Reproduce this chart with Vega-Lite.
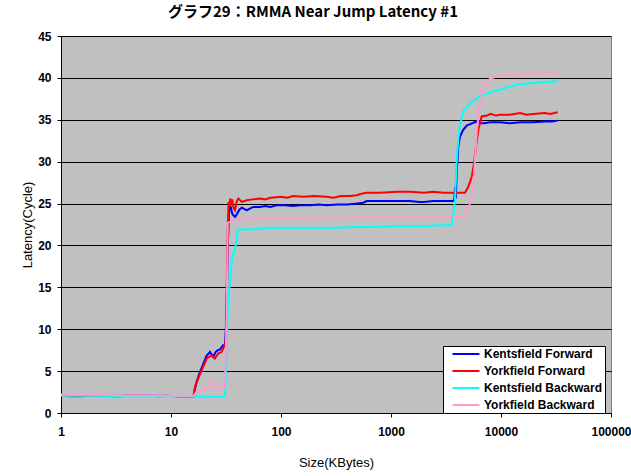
{
  "$schema": "https://vega.github.io/schema/vega-lite/v6.json",
  "width": 550,
  "height": 377,
  "autosize": {"type": "none"},
  "padding": {"left": 61, "top": 36, "right": 20, "bottom": 63},
  "background": "white",
  "title": {"text": "グラフ29：RMMA Near Jump Latency #1", "font": "Noto Sans CJK JP", "fontSize": 15, "fontWeight": "bold", "color": "black", "anchor": "middle", "dx": -23, "offset": 10},
  "config": {"view": {"fill": "#C0C0C0", "stroke": "#808080", "strokeWidth": 1}},
  "datasets": {
    "kf": [{"size":1,"latency":2.1},{"size":1.5,"latency":2.1},{"size":2,"latency":2.1},{"size":3,"latency":2.05},{"size":4,"latency":2.05},{"size":6,"latency":2.05},{"size":8,"latency":2.05},{"size":12,"latency":2.0},{"size":16,"latency":2.0},{"size":17,"latency":3.6},{"size":18,"latency":4.6},{"size":19.7,"latency":5.9},{"size":21,"latency":6.8},{"size":22.6,"latency":7.3},{"size":24.2,"latency":6.7},{"size":25.5,"latency":7.3},{"size":26.7,"latency":7.5},{"size":28,"latency":7.6},{"size":29.7,"latency":8.1},{"size":31,"latency":8.0},{"size":32,"latency":12},{"size":32.8,"latency":20},{"size":33.7,"latency":23.9},{"size":34.4,"latency":24.8},{"size":35.1,"latency":24.5},{"size":36,"latency":23.8},{"size":37,"latency":23.6},{"size":38.2,"latency":23.4},{"size":40,"latency":23.8},{"size":42,"latency":24.3},{"size":44,"latency":24.5},{"size":46,"latency":24.4},{"size":48.8,"latency":24.2},{"size":52,"latency":24.4},{"size":56,"latency":24.6},{"size":64,"latency":24.6},{"size":72,"latency":24.7},{"size":80,"latency":24.6},{"size":91,"latency":24.8},{"size":110,"latency":24.8},{"size":128,"latency":24.7},{"size":150,"latency":24.8},{"size":183,"latency":24.8},{"size":220,"latency":24.9},{"size":260,"latency":24.8},{"size":330,"latency":24.9},{"size":400,"latency":24.9},{"size":488,"latency":25.0},{"size":560,"latency":25.1},{"size":601,"latency":25.3},{"size":800,"latency":25.3},{"size":1000,"latency":25.3},{"size":1127,"latency":25.3},{"size":1489,"latency":25.3},{"size":1800,"latency":25.2},{"size":2000,"latency":25.2},{"size":2410,"latency":25.3},{"size":3000,"latency":25.3},{"size":3500,"latency":25.3},{"size":3687,"latency":25.3},{"size":3770,"latency":25.5},{"size":3830,"latency":27.0},{"size":3880,"latency":25.6},{"size":3958,"latency":28.8},{"size":4090,"latency":31.8},{"size":4240,"latency":33.0},{"size":4540,"latency":33.8},{"size":4877,"latency":34.3},{"size":5500,"latency":34.6},{"size":6013,"latency":34.8},{"size":6500,"latency":34.6},{"size":7000,"latency":34.6},{"size":8000,"latency":34.7},{"size":9800,"latency":34.7},{"size":12000,"latency":34.6},{"size":15000,"latency":34.7},{"size":19540,"latency":34.7},{"size":25000,"latency":34.8},{"size":29000,"latency":34.8},{"size":32768,"latency":34.9}],
    "yf": [{"size":1,"latency":2.1},{"size":1.2,"latency":2.0},{"size":1.5,"latency":2.0},{"size":1.8,"latency":2.1},{"size":2.5,"latency":2.1},{"size":2.9,"latency":2.0},{"size":3.4,"latency":2.0},{"size":4,"latency":2.05},{"size":6,"latency":2.05},{"size":8,"latency":2.0},{"size":9,"latency":2.05},{"size":12,"latency":2.0},{"size":16,"latency":2.0},{"size":16.5,"latency":3.1},{"size":17.5,"latency":4.0},{"size":19,"latency":5.1},{"size":21.1,"latency":6.5},{"size":23.4,"latency":6.9},{"size":25.1,"latency":6.5},{"size":26.9,"latency":7.1},{"size":28.9,"latency":7.3},{"size":30.3,"latency":7.9},{"size":31.5,"latency":8.5},{"size":32.1,"latency":15},{"size":32.8,"latency":22},{"size":33.4,"latency":25.2},{"size":34,"latency":24.6},{"size":34.6,"latency":25.6},{"size":35.3,"latency":24.9},{"size":36,"latency":25.5},{"size":37,"latency":24.5},{"size":38.2,"latency":24.2},{"size":39.6,"latency":25.3},{"size":41,"latency":25.6},{"size":44,"latency":25.2},{"size":48.8,"latency":25.4},{"size":55,"latency":25.5},{"size":64.4,"latency":25.6},{"size":72,"latency":25.5},{"size":80,"latency":25.7},{"size":100,"latency":25.8},{"size":115,"latency":25.7},{"size":128,"latency":25.9},{"size":160,"latency":25.8},{"size":200,"latency":25.9},{"size":260,"latency":25.8},{"size":300,"latency":25.7},{"size":350,"latency":25.9},{"size":420,"latency":25.9},{"size":488,"latency":26.0},{"size":550,"latency":26.2},{"size":601,"latency":26.3},{"size":800,"latency":26.3},{"size":1127,"latency":26.4},{"size":1489,"latency":26.4},{"size":2000,"latency":26.3},{"size":2410,"latency":26.4},{"size":3000,"latency":26.3},{"size":4000,"latency":26.3},{"size":4710,"latency":26.3},{"size":5045,"latency":27.0},{"size":5420,"latency":28.2},{"size":5685,"latency":29.8},{"size":5925,"latency":31.8},{"size":6220,"latency":33.8},{"size":6675,"latency":35.4},{"size":7500,"latency":35.5},{"size":8000,"latency":35.7},{"size":9000,"latency":35.5},{"size":9800,"latency":35.6},{"size":12000,"latency":35.6},{"size":15000,"latency":35.8},{"size":17000,"latency":35.6},{"size":19540,"latency":35.7},{"size":25000,"latency":35.8},{"size":28000,"latency":35.7},{"size":32768,"latency":35.9}],
    "kb": [{"size":1,"latency":2.05},{"size":2,"latency":2.05},{"size":4,"latency":2.0},{"size":8,"latency":2.0},{"size":16,"latency":2.0},{"size":20,"latency":1.95},{"size":25,"latency":1.95},{"size":30.9,"latency":1.95},{"size":32.1,"latency":8},{"size":32.8,"latency":12.3},{"size":33.5,"latency":14},{"size":34.4,"latency":15.9},{"size":36.1,"latency":18.7},{"size":38.2,"latency":19.5},{"size":39.6,"latency":21.1},{"size":40.9,"latency":21.9},{"size":43.9,"latency":21.9},{"size":50,"latency":21.9},{"size":64,"latency":22.0},{"size":91,"latency":22.1},{"size":128,"latency":22.1},{"size":200,"latency":22.1},{"size":300,"latency":22.1},{"size":488,"latency":22.2},{"size":700,"latency":22.2},{"size":1000,"latency":22.3},{"size":1489,"latency":22.3},{"size":2000,"latency":22.3},{"size":2800,"latency":22.4},{"size":3563,"latency":22.4},{"size":3819,"latency":25.4},{"size":3958,"latency":30.2},{"size":4090,"latency":32.6},{"size":4240,"latency":34.4},{"size":4540,"latency":36.0},{"size":5224,"latency":37.0},{"size":6443,"latency":37.8},{"size":8000,"latency":38.3},{"size":9800,"latency":38.6},{"size":13900,"latency":39.2},{"size":19540,"latency":39.4},{"size":25000,"latency":39.5},{"size":32768,"latency":39.6}],
    "yb": [{"size":1,"latency":2.2},{"size":1.5,"latency":2.2},{"size":2,"latency":2.2},{"size":3,"latency":2.15},{"size":4,"latency":2.1},{"size":6,"latency":2.1},{"size":8,"latency":2.1},{"size":12,"latency":2.05},{"size":16,"latency":2.05},{"size":17,"latency":2.5},{"size":19,"latency":2.7},{"size":21.1,"latency":2.9},{"size":22.5,"latency":3.3},{"size":23.4,"latency":3.7},{"size":24.5,"latency":3.3},{"size":25.1,"latency":2.9},{"size":27,"latency":2.7},{"size":28.5,"latency":2.9},{"size":29.7,"latency":3.3},{"size":30.9,"latency":3.0},{"size":32.1,"latency":12},{"size":32.8,"latency":22.7},{"size":35.6,"latency":22.9},{"size":38.2,"latency":23.1},{"size":43.9,"latency":23.1},{"size":64,"latency":23.2},{"size":100,"latency":23.2},{"size":200,"latency":23.3},{"size":350,"latency":23.3},{"size":488,"latency":23.4},{"size":600,"latency":23.5},{"size":1000,"latency":23.5},{"size":2000,"latency":23.5},{"size":3000,"latency":23.5},{"size":4710,"latency":23.55},{"size":5224,"latency":25.0},{"size":5600,"latency":27.4},{"size":5800,"latency":30.2},{"size":6013,"latency":33.4},{"size":6350,"latency":36.6},{"size":6900,"latency":38.9},{"size":7950,"latency":39.9},{"size":9800,"latency":40.3},{"size":12000,"latency":40.4},{"size":15000,"latency":40.5},{"size":19540,"latency":40.5},{"size":23000,"latency":40.6},{"size":27900,"latency":40.7},{"size":30000,"latency":40.5},{"size":32768,"latency":40.6}]
  },
  "encoding": {
    "x": {"field": "size", "type": "quantitative",
      "scale": {"type": "log", "domain": [1, 100000], "nice": false},
      "axis": {"title": "Size(KBytes)", "values": [1, 10, 100, 1000, 10000, 100000], "format": "d", "grid": false,
        "domainColor": "black", "tickColor": "black", "tickSize": 4, "labelPadding": 9,
        "labelFont": "Liberation Sans", "labelFontSize": 12, "labelFontWeight": "bold", "labelColor": "black", "labelFlush": false, "labelOverlap": false,
        "titleFont": "Liberation Sans", "titleFontSize": 13, "titleFontWeight": "normal", "titleColor": "black", "titlePadding": 19}},
    "y": {"field": "latency", "type": "quantitative",
      "scale": {"domain": [0, 45], "nice": false},
      "axis": {"title": "Latency(Cycle)", "values": [0, 5, 10, 15, 20, 25, 30, 35, 40, 45], "grid": true, "gridColor": "black", "gridWidth": 1,
        "domainColor": "black", "tickColor": "black", "tickSize": 4, "labelPadding": 6,
        "labelFont": "Liberation Sans", "labelFontSize": 12, "labelFontWeight": "bold", "labelColor": "black", "labelFlush": false,
        "titleFont": "Liberation Sans", "titleFontSize": 13, "titleFontWeight": "normal", "titleColor": "black", "titlePadding": 3}},
    "color": {"type": "nominal",
      "scale": {"domain": ["Kentsfield Forward", "Yorkfield Forward", "Kentsfield Backward", "Yorkfield Backward"], "range": ["#0000FF", "#FF0000", "#00FFFF", "#FF99CC"]},
      "legend": {"orient": "none", "legendX": 382, "legendY": 310, "title": null, "fillColor": "white", "strokeColor": "black", "padding": 2,
        "symbolType": "M0.43,0H8.14", "symbolSize": 49, "symbolStrokeWidth": 2,
        "labelOffset": 27, "labelFont": "Liberation Sans", "labelFontSize": 12, "labelFontWeight": "bold", "labelColor": "black", "rowPadding": 5}}
  },
  "layer": [
    {"data": {"name": "kf"}, "mark": {"type": "line", "strokeWidth": 2}, "encoding": {"color": {"datum": "Kentsfield Forward"}}},
    {"data": {"name": "yf"}, "mark": {"type": "line", "strokeWidth": 2}, "encoding": {"color": {"datum": "Yorkfield Forward"}}},
    {"data": {"name": "kb"}, "mark": {"type": "line", "strokeWidth": 2}, "encoding": {"color": {"datum": "Kentsfield Backward"}}},
    {"data": {"name": "yb"}, "mark": {"type": "line", "strokeWidth": 2}, "encoding": {"color": {"datum": "Yorkfield Backward"}}}
  ]
}
